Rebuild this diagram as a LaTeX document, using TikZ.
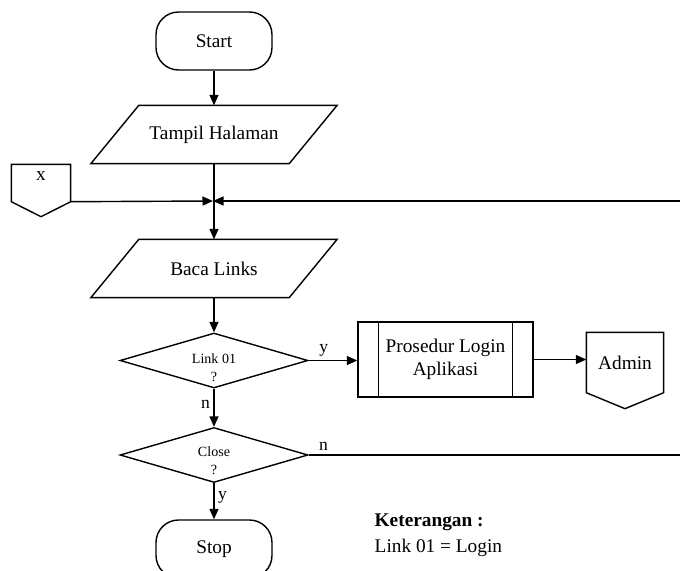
\documentclass[tikz,border=0pt]{standalone}
\usepackage{fontspec}
\setmainfont{Liberation Serif}
\usetikzlibrary{shapes.geometric,arrows.meta}

\tikzset{
  base/.style={font=\fontsize{11}{13}\selectfont, inner sep=0pt},
  terminal/.style={base, draw, rounded corners=0.45cm, minimum width=2.32cm, minimum height=1.16cm},
  io/.style={base, minimum width=3.94cm, minimum height=1.14cm},
  decision/.style={draw, diamond, inner sep=0pt, minimum width=3.76cm, minimum height=1.1cm},
  small/.style={align=center, inner sep=0pt, font=\fontsize{8}{10}\selectfont},
  process/.style={base, draw, minimum width=3.5cm, minimum height=1.5cm, align=center},
  pagecon/.style={base},
  arr/.style={-{Triangle[length=0.21cm,width=0.18cm]}},
  tag/.style={font=\fontsize{10}{12}\selectfont, inner sep=2pt}
}

\begin{document}
\begin{tikzpicture}[x=0.02cm, y=-0.02cm, line width=0.8pt]
\useasboundingbox (0,0) rectangle (680,571);
\clip (0,0) rectangle (680,571);

% main column
\node[terminal] (start) at (214,41) {Start};
\node[io] (tampil) at (214,134.5) {Tampil Halaman};
\draw ([xshift=0.48cm]tampil.north west) -- ([xshift=0.48cm]tampil.north east)
  -- ([xshift=-0.48cm]tampil.south east) -- ([xshift=-0.48cm]tampil.south west) -- cycle;
\node[io] (baca) at (214,268.5) {Baca Links};
\draw ([xshift=0.48cm]baca.north west) -- ([xshift=0.48cm]baca.north east)
  -- ([xshift=-0.48cm]baca.south east) -- ([xshift=-0.48cm]baca.south west) -- cycle;
\node[decision] (link) at (214,360.5) {};
\node[small] (linktext) at (214,368) {Link 01\\?};
\node[decision] (close) at (214,455) {};
\node[small] (closetext) at (214,461) {Close\\?};
\node[terminal] (stop) at (214,549) {Stop};

% side boxes
\node[process] (proc) at (445.5,359.5) {Prosedur Login\\Aplikasi};
\draw ([xshift=0.42cm]proc.north west) -- ([xshift=0.42cm]proc.south west);
\draw ([xshift=-0.42cm]proc.north east) -- ([xshift=-0.42cm]proc.south east);

\node[pagecon, minimum width=1.52cm, minimum height=1.18cm] (admin) at (625,362.5) {Admin};
\draw (admin.north west) -- (admin.north east) -- (admin.south east)
  -- ([yshift=-0.32cm]admin.south) -- (admin.south west) -- cycle;

\node[pagecon, minimum width=1.16cm, minimum height=0.72cm] (xcon) at (41,183) {};
\draw (xcon.north west) -- (xcon.north east) -- (xcon.south east)
  -- ([yshift=-0.3cm]xcon.south) -- (xcon.south west) -- cycle;
\node[base] (xtext) at (41,176) {x};

% join point and page edge
\coordinate (j) at (213,201);
\coordinate (edgetop) at (680,201);
\coordinate (edgeclose) at (680,455);

% connectors
\draw[arr] (start) -- (tampil);
\draw[arr] (tampil) -- (baca);
\draw[arr] (xcon.south east) -- (j);
\draw[arr] (edgetop) -- (j);
\draw[arr] (baca) -- (link);
\draw[arr] (link.east) -- node[tag, pos=0.31, above] {y} (link.east -| proc.west);
\draw[arr] (proc.east) -- (proc.east -| admin.west);
\draw[arr] (link) -- node[tag, pos=0.4, left] {n} (close);
\draw (close.east) -- node[tag, pos=0.04, above] {n} (edgeclose);
\draw[arr] (close) -- node[tag, pos=0.38, right] {y} (stop);

% note
\node[base, anchor=west, align=left, font=\fontsize{11}{14.8}\selectfont] (ket) at (374,535)
  {\textbf{Keterangan :}\\Link 01 = Login};
\end{tikzpicture}
\end{document}
